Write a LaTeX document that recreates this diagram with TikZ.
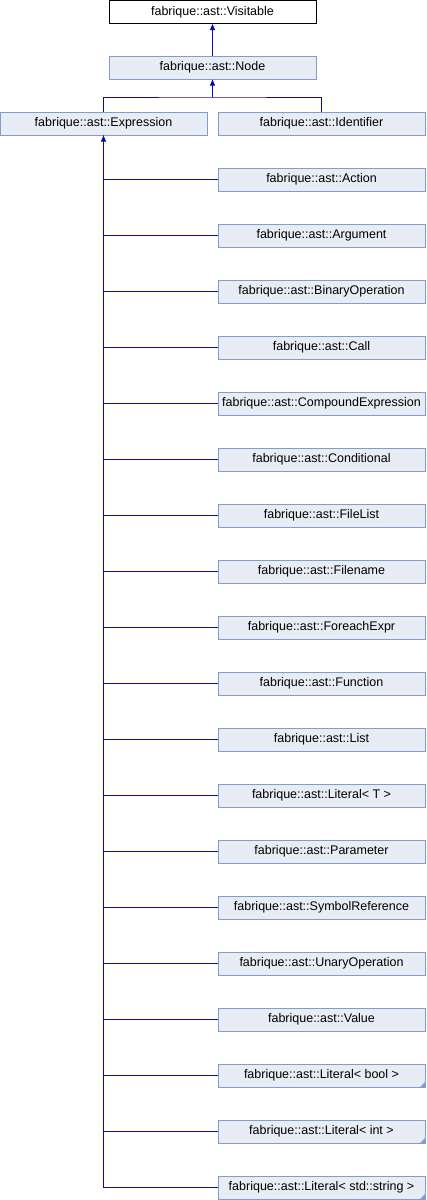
\documentclass[tikz,border=0pt]{standalone}
\usepackage{fontspec}
\setmainfont{Liberation Sans}
\usepackage{tikz}
\usetikzlibrary{arrows.meta}
\definecolor{boxfill}{RGB}{232,236,245}
\definecolor{boxline}{RGB}{132,155,206}
\definecolor{linkblue}{RGB}{10,10,170}

\begin{document}
\begin{tikzpicture}[x=1pt,y=-1pt,
  main/.style = {draw=boxline, fill=boxfill, line width=1pt, minimum width=207pt, minimum height=23pt, inner sep=0pt, font=\fontsize{12.5}{14}\selectfont},
  top/.style = {main, draw=black, fill=white},
  link/.style = {draw=linkblue, line width=1pt},
  tip/.style = {link, -{Triangle[length=6pt,width=5pt]}},
  tmpl/.style = {fill=boxline}]
\useasboundingbox (0,0) rectangle (426,1200);
\node[top] (1) at (212.5,12) {fabrique::ast::Visitable};
\node[main] (2) at (212.5,67.5) {fabrique::ast::Node};
\node[main] (3) at (103.5,123.5) {fabrique::ast::Expression};
\node[main] (4) at (321.5,123.5) {fabrique::ast::Identifier};
\node[main] (5) at (321.5,179.5) {fabrique::ast::Action};
\node[main] (6) at (321.5,235.5) {fabrique::ast::Argument};
\node[main] (7) at (321.5,291.5) {fabrique::ast::BinaryOperation};
\node[main] (8) at (321.5,347.5) {fabrique::ast::Call};
\node[main] (9) at (321.5,403.5) {fabrique::ast::CompoundExpression};
\node[main] (10) at (321.5,459.5) {fabrique::ast::Conditional};
\node[main] (11) at (321.5,515.5) {fabrique::ast::FileList};
\node[main] (12) at (321.5,571.5) {fabrique::ast::Filename};
\node[main] (13) at (321.5,627.5) {fabrique::ast::ForeachExpr};
\node[main] (14) at (321.5,683.5) {fabrique::ast::Function};
\node[main] (15) at (321.5,739.5) {fabrique::ast::List};
\node[main] (16) at (321.5,795.5) {fabrique::ast::Literal< T >};
\node[main] (17) at (321.5,851.5) {fabrique::ast::Parameter};
\node[main] (18) at (321.5,907.5) {fabrique::ast::SymbolReference};
\node[main] (19) at (321.5,963.5) {fabrique::ast::UnaryOperation};
\node[main] (20) at (321.5,1019.5) {fabrique::ast::Value};
\node[main] (21) at (321.5,1075.5) {fabrique::ast::Literal< bool >};
\node[main] (22) at (321.5,1131.5) {fabrique::ast::Literal< int >};
\node[main] (23) at (321.5,1187.5) {fabrique::ast::Literal< std::string >};
% template markers
\fill[tmpl] (21.south east) -- ++(-6,0) -- ++(6,-6) -- cycle;
\fill[tmpl] (22.south east) -- ++(-6,0) -- ++(6,-6) -- cycle;
\fill[tmpl] (23.south east) -- ++(-6,0) -- ++(6,-6) -- cycle;
% inheritance
\draw[tip] (2) -- (1);
\coordinate (s) at (212.5,97);
\draw[link] (3.north) |- (s) -| (4.north);
\draw[tip] (s) -- (2);
\draw[link] (3.south) |- (5.west);
\draw[link] (3.south) |- (6.west);
\draw[link] (3.south) |- (7.west);
\draw[link] (3.south) |- (8.west);
\draw[link] (3.south) |- (9.west);
\draw[link] (3.south) |- (10.west);
\draw[link] (3.south) |- (11.west);
\draw[link] (3.south) |- (12.west);
\draw[link] (3.south) |- (13.west);
\draw[link] (3.south) |- (14.west);
\draw[link] (3.south) |- (15.west);
\draw[link] (3.south) |- (16.west);
\draw[link] (3.south) |- (17.west);
\draw[link] (3.south) |- (18.west);
\draw[link] (3.south) |- (19.west);
\draw[link] (3.south) |- (20.west);
\draw[link] (3.south) |- (21.west);
\draw[link] (3.south) |- (22.west);
\draw[link] (3.south) |- (23.west);
\draw[tip] (3.south |- 5.west) -- (3.south);
\end{tikzpicture}
\end{document}
